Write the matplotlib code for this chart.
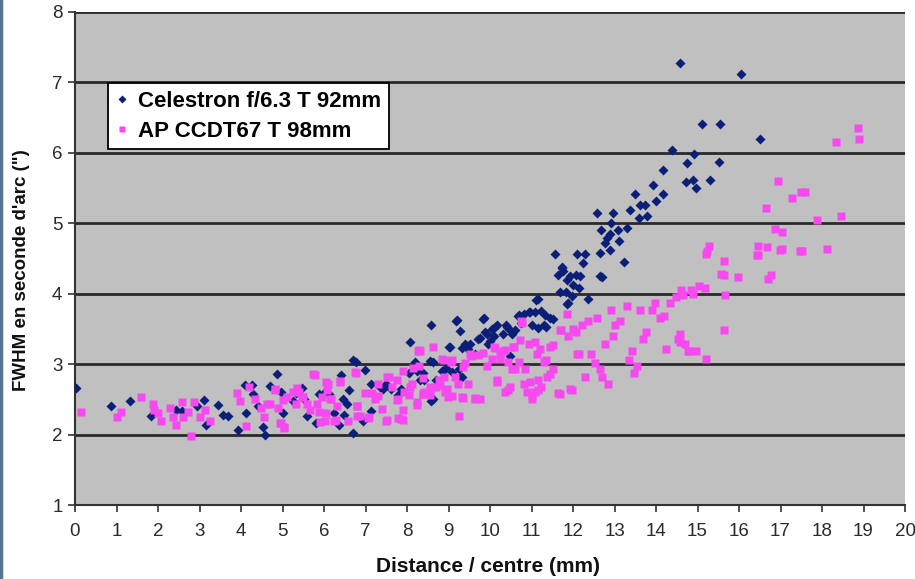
import matplotlib
matplotlib.use("Agg")
import matplotlib.pyplot as plt
from matplotlib.lines import Line2D

# ---------------- data ----------------
celestron_x = [0.02, 0.87, 1.33, 1.82, 2.43, 2.58, 2.93, 3.10, 3.15, 3.45, 3.57, 3.68, 3.92,
               4.10, 4.27, 4.12, 4.40, 4.30, 4.54, 4.58, 4.69, 4.86, 4.97, 5.00, 5.25, 5.32,
               5.48, 5.53, 5.60, 5.80, 5.88, 6.02, 6.12, 6.24, 6.37, 6.41, 6.45, 6.49, 6.56,
               6.60, 6.71, 6.77, 6.71, 6.98, 6.94, 7.14, 7.14, 7.36, 7.42, 7.50, 7.62, 7.78,
               7.85, 8.07, 8.06, 8.20, 8.23, 8.31, 8.42, 8.55, 8.59, 8.63, 8.71, 8.84, 8.91,
               9.00, 9.19, 9.26, 9.33, 9.40, 9.47, 9.64, 9.75, 9.85, 9.89, 9.96, 10.04, 10.10,
               10.18, 10.32, 10.39, 10.46, 10.60, 10.67, 10.74, 10.81, 10.95, 11.02, 11.09,
               11.16, 11.23, 11.30, 11.44, 11.57, 11.65, 11.73, 11.77, 11.84, 11.89, 11.92,
               12.00, 12.09, 12.08, 12.15, 12.17, 12.25, 12.29, 12.36, 12.57, 12.65, 12.65,
               12.67, 12.69, 12.76, 12.81, 12.88, 12.90, 12.92, 12.96, 13.09, 13.10, 13.24,
               13.29, 13.37, 13.50, 13.60, 13.61, 13.73, 13.79, 13.92, 14.00, 14.16, 14.17,
               14.38, 14.58, 14.72, 14.74, 14.90, 14.92, 14.96, 15.12, 15.31, 15.52, 15.55,
               16.06, 16.51,
               9.21, 9.28, 9.84, 10.12, 9.92, 10.40, 10.53, 10.71, 10.97, 11.12, 11.32, 11.52,
               11.16, 11.36, 9.04, 9.32, 9.52, 9.72, 8.63, 8.95, 9.08, 8.39, 9.28, 8.59, 10.48,
               10.00, 11.73, 11.85, 11.69, 11.97, 11.85]
celestron_y = [2.66, 2.41, 2.48, 2.27, 2.35, 2.33, 2.40, 2.49, 2.13, 2.42, 2.28, 2.26, 2.07,
               2.70, 2.71, 2.30, 2.40, 2.58, 2.11, 1.99, 2.69, 2.86, 2.61, 2.30, 2.48, 2.59,
               2.66, 2.51, 2.26, 2.16, 2.58, 2.61, 2.58, 2.30, 2.14, 2.84, 2.51, 2.28, 2.44,
               2.63, 3.06, 3.03, 2.02, 2.91, 2.19, 2.72, 2.34, 2.67, 2.65, 2.72, 2.65, 2.56,
               2.64, 3.31, 2.88, 3.03, 2.90, 2.78, 2.77, 3.04, 3.56, 2.51, 2.78, 2.90, 2.93,
               3.25, 3.61, 2.93, 2.82, 3.29, 3.22, 3.14, 3.37, 3.66, 3.45, 3.29, 3.50, 3.40,
               3.56, 3.43, 3.56, 3.50, 3.48, 3.69, 3.58, 3.71, 3.74, 3.56, 3.74,
               3.92, 3.76, 3.56, 3.66, 4.56, 4.26, 4.36, 4.32, 4.03, 3.87, 4.25,
               4.13, 4.57, 4.26, 4.08, 4.25, 4.43, 4.57, 3.92, 5.15, 4.58, 4.25,
               4.90, 4.24, 4.72, 4.79, 4.62, 4.85, 5.01, 5.15, 4.90, 4.75, 4.45,
               4.94, 5.19, 5.42, 5.07, 5.26, 5.26, 5.11, 5.55, 5.32, 5.41, 5.76,
               6.04, 7.28, 5.59, 5.86, 5.61, 5.98, 5.50, 6.41, 5.61, 5.87, 6.41,
               7.12, 6.20,
               3.62, 3.47, 3.64, 3.53, 3.43, 3.53, 3.43, 3.70, 3.74, 3.91, 3.70, 3.64,
               3.51, 3.53, 3.25, 3.23, 3.28, 3.35, 3.03, 2.94, 2.89, 2.87, 2.82, 2.47, 3.11,
               3.33, 4.38, 4.19, 4.02, 3.97, 3.85]

ap_x = [0.14, 1.00, 1.10, 1.59, 1.87, 1.90, 2.01, 2.08, 2.29, 2.36, 2.43, 2.58, 2.60, 2.72,
        2.79, 2.86, 3.00, 3.14, 3.25, 3.91, 3.98, 4.12, 4.19, 4.33, 4.48, 4.55, 4.69, 4.83,
        4.90, 4.97, 5.04, 5.11, 5.25, 5.32, 5.39, 5.46, 5.60, 5.67, 5.78, 5.88, 5.95, 6.02,
        6.09, 6.16, 6.24, 6.31, 6.38, 6.59, 6.77, 6.80, 6.87, 7.08, 7.15, 7.22, 7.29, 7.50,
        7.57, 7.64, 7.78, 7.85, 7.90, 7.92, 8.06, 8.13, 8.23, 8.28, 8.32, 8.42, 8.56, 8.63,
        8.70, 8.77, 8.84, 8.91, 8.98, 9.05, 9.16, 9.22, 9.26, 9.33, 9.40, 9.47, 9.54, 9.64,
        9.75, 9.82, 9.92, 10.04, 10.10, 10.18, 10.25, 10.32, 10.35, 10.43, 10.49, 10.57,
        10.60, 10.71, 10.74, 10.81, 10.88, 10.95, 11.02, 11.09, 11.13, 11.16, 11.23, 11.30,
        11.37, 11.44, 11.51, 11.65, 11.72, 11.86, 11.89, 11.93, 12.00, 12.08, 12.15, 12.22,
        12.29, 12.36, 12.43, 12.54, 12.57, 12.64, 12.71, 12.78, 12.85, 12.92, 12.96, 13.02,
        13.13, 13.30, 13.34, 13.41, 13.48, 13.55, 13.62, 13.69, 13.76, 13.91, 13.98, 14.09,
        14.19, 14.23, 14.33, 14.47, 14.54, 14.57, 14.65, 14.71, 14.79, 14.89, 14.96, 15.03,
        15.17, 15.21, 15.24, 15.27, 15.64, 15.64, 15.66, 15.64, 15.97, 16.46, 16.46, 16.65,
        16.68, 16.76, 16.86, 16.93, 17.04, 17.04, 17.28, 17.49, 17.60, 17.52, 17.89, 18.13,
        18.34, 18.45, 18.87, 18.90,
        5.74, 6.05, 6.08, 4.82, 5.02, 4.62, 5.34, 5.50, 5.82, 6.06, 6.14, 6.30, 5.90, 4.95,
        5.03, 6.75, 6.79, 6.79, 6.39, 7.07, 7.51, 6.99, 7.30, 7.40, 7.51, 7.75, 7.75, 7.91,
        7.91, 7.79, 8.07, 8.15, 8.23, 8.39, 8.39, 8.59, 8.88, 8.88, 8.96, 8.27,
        8.30, 9.08, 9.36, 9.52, 9.72, 10.12, 10.24, 10.36, 10.56, 10.72, 10.76, 11.09, 11.20,
        11.36, 11.52, 11.69, 12.09, 8.55, 8.79, 8.39, 9.08, 9.36, 9.64, 10.16, 10.44,
        10.52, 10.84, 10.96, 11.00, 11.16, 11.44, 11.69, 11.97,
        15.20, 16.44, 16.99, 17.48, 15.57, 16.70, 14.60, 14.85, 14.58, 14.77]
ap_y = [2.32, 2.25, 2.32, 2.53, 2.43, 2.35, 2.30, 2.19, 2.38, 2.25, 2.14, 2.46, 2.25, 2.32,
        1.98, 2.46, 2.25, 2.35, 2.19, 2.59, 2.48, 2.12, 2.67, 2.51, 2.38, 2.25, 2.43, 2.64,
        2.38, 2.17, 2.09, 2.53, 2.61, 2.43, 2.61, 2.53, 2.43, 2.35, 2.85, 2.32, 2.53, 2.19,
        2.72, 2.51, 2.19, 2.40, 2.74, 2.19, 2.87, 2.40, 2.27, 2.25, 2.59, 2.51, 2.72, 2.19,
        2.82, 2.67, 2.51, 2.22, 2.90, 2.61, 2.56, 2.72, 2.46, 2.98, 3.19, 2.61, 2.56, 3.24,
        2.67, 2.77, 3.08, 2.61, 2.53, 3.03, 2.82, 2.72, 2.27, 2.53, 3.01, 2.72, 3.11, 2.51,
        2.51, 3.16, 2.98, 3.08, 3.24, 2.77, 3.08, 3.19, 2.61, 3.03, 2.67, 3.24,
        2.93, 3.03, 3.61, 2.72, 2.61, 3.29, 2.51, 2.61, 3.14, 2.77, 2.67, 3.03,
        2.82, 3.24, 2.93, 2.59, 3.48, 3.71, 3.40, 2.64, 3.50, 3.45, 3.14, 3.56,
        2.82, 3.61, 3.14, 3.01, 3.66, 2.93, 2.82, 3.29, 2.72, 3.77, 3.40, 3.56,
        3.61, 3.82, 3.06, 3.19, 2.87, 2.98, 3.77, 3.35, 3.45, 3.77, 3.87, 3.66,
        3.69, 3.22, 3.87, 3.95, 3.35, 3.43, 3.98, 3.29, 3.19, 4.00, 3.19, 4.11,
        4.08, 3.08, 4.60, 4.68, 4.47, 4.26, 3.98, 3.48, 4.24, 4.68, 4.55, 5.21,
        4.66, 4.26, 4.92, 5.60, 4.87, 4.63, 5.36, 5.44, 5.44, 4.60, 5.05, 4.64,
        6.15, 5.10, 6.36, 6.20,
        2.86, 2.75, 2.63, 2.63, 2.49, 2.44, 2.66, 2.54, 2.44, 2.30, 2.51, 2.20, 2.18, 2.16,
        2.11, 2.89, 2.40, 2.26, 2.76, 2.23, 2.21, 2.59, 2.55, 2.37, 2.82, 2.77, 2.49, 2.35,
        2.21, 2.23, 2.68, 2.94, 2.42, 2.58, 2.80, 2.66, 3.06, 2.82, 2.65, 3.18,
        3.20, 3.06, 2.96, 3.15, 3.13, 3.23, 3.15, 3.20, 3.25, 3.34, 3.58, 3.31, 3.22,
        3.06, 3.27, 3.48, 3.15, 2.68, 2.70, 2.58, 2.55, 2.52, 2.52, 2.75, 2.63,
        2.93, 2.93, 2.75, 2.56, 2.63, 2.86, 2.58, 2.63,
        4.57, 4.55, 4.62, 4.61, 4.28, 4.21, 4.05, 4.05, 3.32, 3.18]

series_labels = ["Celestron f/6.3 T 92mm", "AP CCDT67 T 98mm"]
x_ticks = list(range(0, 21))
y_ticks = list(range(1, 9))
x_label = "Distance / centre (mm)"
y_label = "FWHM en seconde d'arc (\")"

# ---------------- styling ----------------
blue = "#0b1f78"
pink = "#f64af0"
sans = ["Liberation Sans", "DejaVu Sans"]

fig = plt.figure(figsize=(9.15, 5.79), dpi=100)
fig.patch.set_facecolor("white")
ax = fig.add_axes([75 / 915, 1 - 505 / 579, 830 / 915, 493 / 579])
ax.set_facecolor("#c0c0c0")

for yv in y_ticks[1:]:
    ax.axhline(yv, color="#2a2a2a", lw=2.0, zorder=1)

ax.plot(celestron_x, celestron_y, linestyle="none", marker="D", ms=5.2,
        mec="none", color=blue, zorder=3, label=series_labels[0])
ax.plot(ap_x, ap_y, linestyle="none", marker="s", ms=5.8,
        mec="none", color=pink, zorder=4, label=series_labels[1])

ax.set_xlim(0, 20)
ax.set_ylim(1, 8)
ax.set_xticks(x_ticks)
ax.set_yticks(y_ticks)
for s in ["top", "right"]:
    ax.spines[s].set_visible(False)
for s in ["left", "bottom"]:
    ax.spines[s].set_color("#333333")
    ax.spines[s].set_linewidth(1.5)
ax.tick_params(axis="both", direction="out", length=5, width=1.2, color="#333333",
               labelsize=13.5, labelcolor="#2a2a2a")
for lab in ax.get_xticklabels() + ax.get_yticklabels():
    lab.set_family(sans)
ax.tick_params(axis="x", pad=8)
ax.tick_params(axis="y", pad=4)

fig.text(488 / 915, 1 - 567 / 579, x_label, ha="center", va="center",
         fontsize=15, fontweight="bold", family=sans, color="#111111")
fig.text(22 / 915, 1 - 270 / 579, y_label, ha="center", va="center", rotation=90,
         fontsize=13.5, fontweight="bold", family=sans, color="#111111")

handles = [Line2D([], [], linestyle="none", marker="D", ms=4.5, color=blue, mec="none"),
           Line2D([], [], linestyle="none", marker="s", ms=5, color=pink, mec="none")]
leg = fig.legend(handles, series_labels, loc="upper left",
                 bbox_to_anchor=(108 / 915, 1 - 83 / 579), borderaxespad=0,
                 frameon=True, fancybox=False, framealpha=1, edgecolor="black",
                 prop={"family": sans, "size": 16, "weight": "bold"},
                 handlelength=0.6, handletextpad=0.4, borderpad=0.35, labelspacing=0.4)
leg.get_frame().set_linewidth(1.3)
leg.set_zorder(10)

# thin frame strip at the left edge of the picture
fig.add_artist(plt.Line2D([0.0015, 0.0015], [0, 1], transform=fig.transFigure,
                          color="#5a7392", lw=2.5))

fig.savefig("out.png", dpi=100)
